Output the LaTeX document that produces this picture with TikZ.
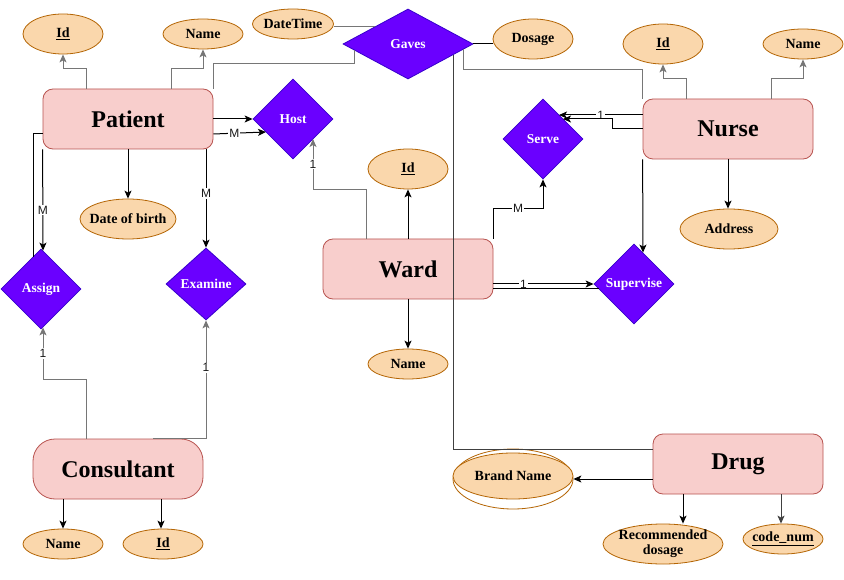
\documentclass[tikz,border=0pt]{standalone}
\usepackage{fontspec}
\setmainfont{Liberation Serif}
\newfontfamily\cardfont{Liberation Sans}
\usepackage{xcolor}
\definecolor{ENTITYCOLOR}{HTML}{F8CECC}
\definecolor{ENTITYLINE}{HTML}{B85450}
\definecolor{ATTRCOLOR}{HTML}{FAD7AC}
\definecolor{ATTRLINE}{HTML}{B46504}
\definecolor{RELCOLOR}{HTML}{6A00FF}
\definecolor{RELLINE}{HTML}{3700CC}
\definecolor{LINKGREY}{HTML}{767676}
\usetikzlibrary{shapes,arrows.meta,positioning,calc}
\tikzset{
  basic-style/.style = {
    draw=#1, line width=0.8pt,
    inner sep=0pt, align=center
  },
  entity-style/.style = {
    basic-style=ENTITYLINE, rectangle, rounded corners=10pt,
    fill=ENTITYCOLOR,
    minimum width=170pt,
    minimum height=60pt,
    font=\bfseries\fontsize{24}{28}\selectfont
  },
  rel-style/.style = {
    basic-style=RELLINE, diamond,
    fill=RELCOLOR, text=white,
    minimum width=80pt,
    minimum height=80pt,
    font=\bfseries\fontsize{13.5}{16}\selectfont
  },
  attr-style/.style = {
    basic-style=ATTRLINE, ellipse,
    fill=ATTRCOLOR,
    inner xsep=-6pt, inner ysep=-2pt,
    minimum width=80pt,
    minimum height=30pt,
    font=\bfseries\fontsize{14}{15}\selectfont
  },
  card-style/.style = {
    fill=white, inner sep=1pt, text=black!90,
    font=\cardfont\fontsize{12}{13}\selectfont
  },
  link-style/.style = {
    draw=#1, line width=1pt
  },
  link-style/.default = black
}
\newcommand\keyName[1]{\underline{#1}}

\begin{document}
\begin{tikzpicture}[x=1pt, y=-1pt, >={Stealth[length=8pt,width=7pt,inset=2pt]}]
  \useasboundingbox[fill=white] (0,0) rectangle (844,580);

  % entities
  \node[entity-style] (patient) at (128,119) {Patient};
  \node[entity-style] (nurse) at (728,129) {Nurse};
  \node[entity-style] (ward) at (408,269) {Ward};
  \node[entity-style, rounded corners=22pt] (consultant) at (118,469) {Consultant};
  \node[entity-style] (drug) at (738,464) {Drug};

  % relationships
  \node[rel-style, minimum width=130pt, minimum height=70pt] (gaves) at (408,44) {Gaves};
  \node[rel-style] (host) at (293,119) {Host};
  \node[rel-style] (serve) at (543,139) {Serve};
  \node[rel-style] (assign) at (41,289) {Assign};
  \node[rel-style, minimum height=72pt] (examine) at (206,284) {Examine};
  \node[rel-style] (supervise) at (634,284) {Supervise};

  % attributes
  \node[attr-style, minimum height=40pt] (patient-id) at (63,34) {\keyName{Id}};
  \node[attr-style] (patient-name) at (203,34) {Name};
  \node[attr-style, minimum width=81pt] (datetime) at (293,24) {DateTime};
  \node[attr-style, minimum height=40pt] (dosage) at (533,39) {Dosage};
  \node[attr-style, minimum height=40pt] (nurse-id) at (663,44) {\keyName{Id}};
  \node[attr-style] (nurse-name) at (803,44) {Name};
  \node[attr-style, minimum width=98pt, minimum height=40pt] (address) at (729,229) {Address};
  \node[attr-style, minimum height=40pt] (ward-id) at (408,169) {\keyName{Id}};
  \node[attr-style] (ward-name) at (408,364) {Name};
  \node[attr-style, minimum width=96pt, minimum height=40pt] (dob) at (128,219) {Date of birth};
  \node[attr-style] (consultant-name) at (63,544) {Name};
  \node[attr-style] (consultant-id) at (163,544) {\keyName{Id}};
  \node[attr-style, minimum width=120pt, minimum height=60pt, fill=white] (brand-outer) at (513,479) {};
  \node[attr-style, minimum width=120pt, minimum height=46pt] (brand) at (513,476) {Brand Name};
  \node[attr-style, minimum width=120pt, minimum height=40pt] (rec-dosage) at (663,544) {Recommended\\dosage};
  \node[attr-style] (code-num) at (783,539) {\keyName{code\_num}};

  % patient
  \draw[link-style=LINKGREY, ->] ([xshift=-42pt]patient.north) -- ++(0,-20) -| (patient-id.south);
  \draw[link-style=LINKGREY, ->] ([xshift=43pt]patient.north) -- ++(0,-20) -| (patient-name.south);
  \draw[link-style=LINKGREY] (patient.north east) |- ([xshift=-54pt,yshift=-20pt]gaves.center)
    -- ([xshift=-54pt,yshift=-6pt]gaves.center);
  \draw[link-style, ->] (patient.east) -- (host.west);
  \draw[link-style, ->] ([yshift=-15pt]patient.east) -- node[card-style, pos=0.4]{M}
    ([xshift=-27pt,yshift=-13pt]host.center);
  \draw[link-style, ->] (patient.south) -- (dob.north);
  \draw[link-style, ->] (patient.south -| examine.north) -- node[card-style, pos=0.45]{M} (examine.north);
  \draw[link-style, ->] (patient.south west) -- node[card-style, pos=0.6]{M}
    ([xshift=2pt,yshift=-2pt]assign.north);
  \draw[link-style] ([yshift=-15pt]patient.west) -| ([xshift=-8pt,yshift=-8pt]assign.north);

  % gaves
  \draw[link-style=LINKGREY] ([yshift=-3pt]datetime.east) -- ([xshift=-33pt,yshift=17pt]gaves.center);
  \draw[link-style] (gaves.east) -- (gaves.east -| dosage.west);
  \draw[link-style=LINKGREY] ([xshift=55pt,yshift=-5pt]gaves.center)
    |- ([yshift=29pt]nurse.north west) -- (nurse.north west);
  \draw[link-style=black!75] ([xshift=45pt,yshift=-11pt]gaves.center) |- ([yshift=15pt]drug.west);

  % ward
  \draw[link-style=LINKGREY, ->] ([xshift=-42pt]ward.north) -- ++(0,-49)
    -| node[card-style, pos=0.75]{1} ([xshift=20pt,yshift=-20pt]host.center);
  \draw[link-style, ->] (ward.north) -- (ward-id.south);
  \draw[link-style, ->] (ward.south) -- (ward-name.north);
  \draw[link-style, ->] (ward.north east) -- ++(0,-30) -| node[card-style, pos=0.25]{M} (serve.south);
  \draw[link-style, ->] ([yshift=-15pt]ward.east) -- node[card-style, pos=0.3]{1} (supervise.west);
  \draw[link-style] ([yshift=-20pt]ward.east) -- ([xshift=-35pt,yshift=-5pt]supervise.center);

  % nurse
  \draw[link-style=LINKGREY, ->] ([xshift=-42pt]nurse.north) -- ++(0,-20) -| (nurse-id.south);
  \draw[link-style=LINKGREY, ->] ([xshift=43pt]nurse.north) -- ++(0,-20) -| (nurse-name.south);
  \draw[link-style, ->] (nurse.south) -- (nurse.south |- address.north);
  \draw[link-style, ->] ([yshift=14pt]nurse.west) -- node[card-style, pos=0.5]{1}
    ([xshift=16pt,yshift=24pt]serve.center);
  \draw[link-style, ->] (nurse.west) -- ++(-30,0) |- ([xshift=20pt,yshift=20pt]serve.center);
  \draw[link-style, ->] (nurse.south west) -- ([xshift=9pt,yshift=-9pt]supervise.north);

  % consultant
  \draw[link-style=LINKGREY, ->] ([xshift=-32pt]consultant.north) -- ++(0,-59)
    -| node[card-style, pos=0.75]{1} ([xshift=2pt,yshift=2pt]assign.south);
  \draw[link-style=LINKGREY, ->] ([xshift=35pt]consultant.north)
    -| node[card-style, pos=0.8]{1} (examine.south);
  \draw[link-style, ->] (consultant.south -| consultant-name.north) -- (consultant-name.north);
  \draw[link-style, ->] ([xshift=43pt]consultant.south) -- ([xshift=43pt]consultant.south |- consultant-id.north);

  % drug
  \draw[link-style, ->] ([yshift=-15pt]drug.west) -- ([yshift=-15pt]drug.west -| brand.east);
  \draw[link-style, ->] ([xshift=-55pt]drug.south) -- ([xshift=-55pt]drug.south |- rec-dosage.north);
  \draw[link-style=black!75, ->] ([xshift=43pt]drug.south) -- ([xshift=43pt]drug.south |- code-num.north);
\end{tikzpicture}
\end{document}
